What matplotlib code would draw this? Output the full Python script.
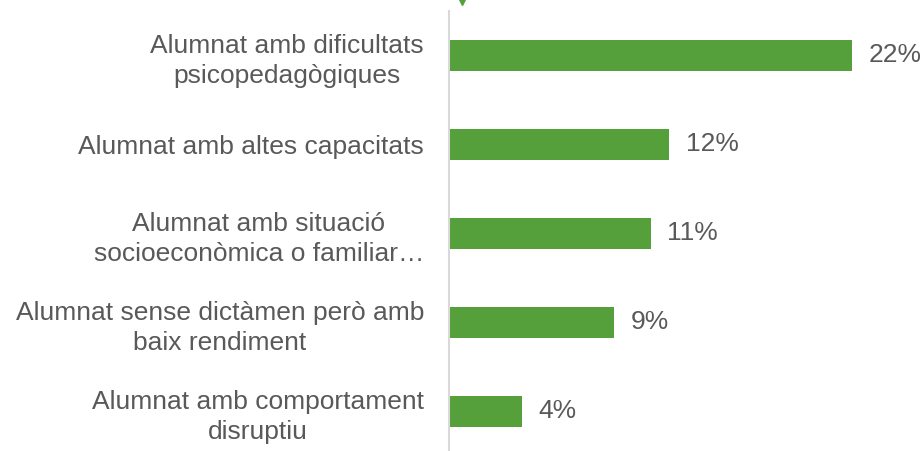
import matplotlib.pyplot as plt
from matplotlib.lines import Line2D

plt.rcParams['font.family'] = ['Liberation Sans', 'DejaVu Sans']

categories = [
    'Alumnat amb dificultats\npsicopedagògiques',
    'Alumnat amb altes capacitats',
    'Alumnat amb situació\nsocioeconòmica o familiar…',
    'Alumnat sense dictàmen però amb\nbaix rendiment',
    'Alumnat amb comportament\ndisruptiu',
]
values = [22, 12, 11, 9, 4]
value_labels = ['22%', '12%', '11%', '9%', '4%']

green = '#55A03A'
grey_text = '#595959'

fig = plt.figure(figsize=(9.22, 4.51), dpi=100)
ax = fig.add_axes([0.487, -0.01, 0.513, 0.9856])

ypos = list(range(len(categories)))
ax.barh(ypos, values, height=0.35, color=green)
ax.set_ylim(len(categories) - 0.5, -0.5)
ax.set_xlim(0, 25.8)

for y, v, lab in zip(ypos, values, value_labels):
    ax.text(v + 0.9, y, lab, va='center', ha='left', fontsize=19, color=grey_text)

ax.set_yticks(ypos)
ax.set_yticklabels(categories, fontsize=19, color=grey_text, ha='right',
                   multialignment='center', linespacing=1.32)
ax.tick_params(axis='y', length=0, pad=18)
ax.set_xticks([])

for s in ['top', 'right', 'bottom']:
    ax.spines[s].set_visible(False)
ax.spines['left'].set_color('#D9D9D9')
ax.spines['left'].set_linewidth(1.5)

# small marker cut at the top edge
fig.add_artist(Line2D([462 / 922], [1 - 1 / 451], marker='v', markersize=6,
                      color=green, linestyle='none', transform=fig.transFigure))

fig.savefig('out.png', dpi=100)
